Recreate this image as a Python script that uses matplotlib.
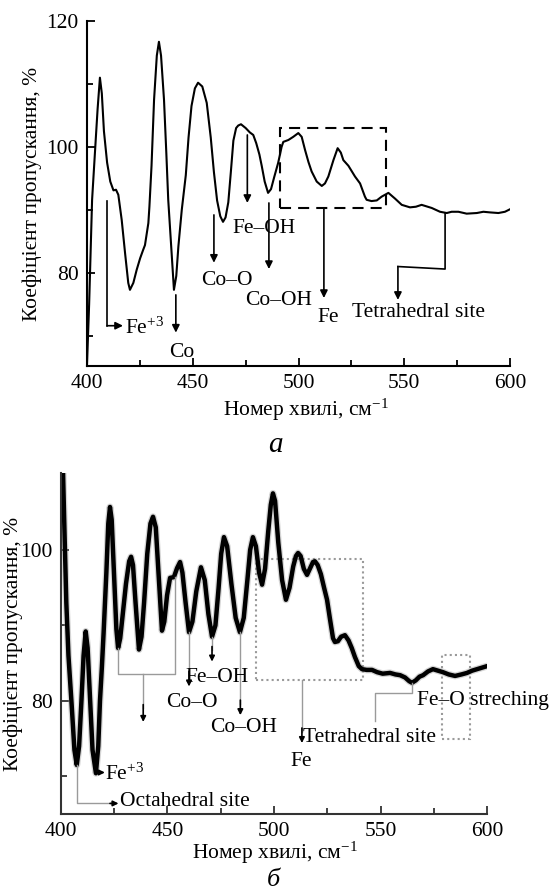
import matplotlib
matplotlib.use('Agg')
import matplotlib.pyplot as plt
from matplotlib.patches import Rectangle
from matplotlib.ticker import MultipleLocator, FixedLocator

plt.rcParams['font.family'] = ['Liberation Serif', 'DejaVu Serif']
plt.rcParams['mathtext.fontset'] = 'custom'
plt.rcParams['mathtext.rm'] = 'Liberation Serif'
plt.rcParams['mathtext.it'] = 'Liberation Serif:italic'

FS = 15.5

# спектр (а)
wn_a = [400, 401, 402.4, 404, 405, 406.1, 407, 408, 409.5, 411, 412.5, 413.7, 414.8,
        416.4, 418, 419.5, 420.3, 421.9, 423.5, 425.1, 426.6, 427.4, 429, 429.5, 430.5,
        431.7, 433, 434, 435, 436.4, 437.5, 438.4, 439.8, 441.1, 442.2, 443.2, 444.8,
        446.7, 448, 449.4, 451, 452.5, 454.5, 456.6, 458.5, 460, 461.5, 463, 464.3,
        465.5, 466.8, 468, 469.2, 470.5, 471.5, 472.8, 475, 477, 478.6, 480, 481.5,
        482.6, 484, 485.6, 487, 488.5, 490.4, 492, 492.8, 495.2, 497.5, 499.9, 501.5,
        503.1, 504.7, 506.2, 508.6, 511, 512.5, 514.1, 515.3, 516.5, 518.5, 520, 521.2,
        523.6, 526.7, 529.1, 531.4, 532.2, 534.5, 537, 539.3, 542.5, 545.6, 548.8,
        552.7, 555.5, 558.2, 563, 566.9, 570.1, 572.4, 575.6, 579.5, 584.3, 587.4,
        590.5, 594.5, 597.6, 600]
tr_a = [65.5, 75, 91.6, 100.5, 106, 111.0, 108.5, 102.5, 97.5, 94.5, 93.1, 93.2, 92.4,
        88.4, 83.1, 78.4, 77.3, 78.4, 80.5, 82.3, 83.7, 84.4, 87.9, 90.5, 97,
        107.5, 114.5, 116.7, 114.5, 107.5, 99, 91.6, 84.2, 77.3, 79.5, 84.2, 90,
        95.5, 101.5, 106.5, 109.3, 110.2, 109.6, 107, 101.5, 96, 91.5, 89, 88.1,
        88.8, 91.2, 96, 101, 103, 103.4, 103.6, 103, 102.3, 101.9, 100.6, 98.8,
        97, 94.5, 92.7, 93.3, 95.2, 97.5, 100, 100.8, 101.1, 101.6, 102.2, 101.6,
        99.5, 97.6, 96.1, 94.5, 93.8, 94.2, 95.3, 96.6, 97.9, 99.8, 99.1, 97.9,
        97, 95.3, 94.2, 92.1, 91.6, 91.4, 91.5, 92.1, 92.7, 91.8, 90.8,
        90.4, 90.5, 90.8, 90.3, 89.7, 89.5, 89.7, 89.7, 89.4, 89.5, 89.7,
        89.6, 89.5, 89.7, 90.1]

# спектр (б)
wn_b = [400.3, 400.9, 401.5, 402.5, 403.5, 405, 406.3, 407.4, 408.5, 409.6, 410.6, 411.6,
        412.5, 413.5, 414.8, 416.4, 417.5, 418.3, 419.2, 420, 421.3, 422.2, 423, 423.8,
        425, 426, 426.8, 427.8, 429, 430.5, 432, 432.9, 433.8, 435, 436.6, 437.8, 439,
        440.5, 442, 443.2, 444.5, 446, 447.4, 448.5, 449.8, 451.2, 453, 454.5, 455.9,
        457, 458.5, 460.1, 461.7, 463.5, 465.7, 467.5, 469.2, 470.9, 472.5, 474, 475.2,
        476.5, 478, 480, 482, 484, 485.8, 487.5, 488.8, 490.1, 491.5, 493, 494.4, 495.8,
        497.3, 498.5, 499.5, 500.5, 502, 503.8, 505.6, 507.3, 509, 510.3, 511.3, 512.5,
        514, 515.5, 517, 518.3, 519.2, 520.5, 522, 523.5, 524.9, 526.3, 527.7, 528.6,
        530, 531.5, 533.3, 535, 536.5, 538, 539.8, 541.3, 543.5, 546, 548.4, 551,
        554.5, 557, 559.2, 561.5, 563.5, 564.8, 566.5, 568.3, 570, 572.3, 574.6, 577,
        579.3, 582, 585, 588, 590.6, 593, 595.3, 597.6, 600]
tr_b = [118, 111, 104, 93, 86, 79.5, 73.5, 71.5, 74, 80, 86, 89.2,
        87, 81, 73.5, 70.4, 74, 80, 84.5, 89, 97, 103.5, 105.7, 104,
        96, 89.5, 87, 88.3, 91.5, 95.5, 98.5, 99.1, 98, 93, 86.8, 88.5, 93,
        99.5, 103.5, 104.4, 103, 96, 89.3, 90.5, 94, 96.3, 96.4, 97.6, 98.4,
        97, 93, 89.1, 90.5, 94.5, 97.7, 96, 91.5, 88.5, 90, 95, 99.5,
        101.7, 100.5, 95.5, 91, 89.1, 91, 96, 100, 101.7, 100.5, 97, 95.4, 97.5,
        102.5, 106, 107.5, 106.5, 101, 96, 93.4, 95, 97.8, 99.2, 99.6, 99.2,
        97.5, 96.7, 97.6, 98.4, 98.5, 98, 96.8, 95, 93.4, 90.8, 88.3, 87.8,
        87.9, 88.5, 88.7, 88, 87, 85.8, 84.6, 84.2, 84.1, 84.1, 83.8, 83.6,
        83.7, 83.5, 83.4, 83.1, 82.6, 82.4, 82.7, 83.2, 83.4, 83.9, 84.2, 84,
        83.8, 83.5, 83.3, 83.5, 83.7, 84, 84.2, 84.4, 84.6]

ylabel = 'Коефіцієнт пропускання, %'
xlabel = 'Номер хвилі, см$^{-1}$'

fig = plt.figure(figsize=(5.49, 8.94), dpi=100)
ax1 = fig.add_axes([0.1585, 0.5906, 0.7705, 0.3859])
ax2 = fig.add_axes([0.1111, 0.0895, 0.776, 0.3814])


def style_axes(ax, color):
    for s in ['top', 'right']:
        ax.spines[s].set_visible(False)
    for s in ['left', 'bottom']:
        ax.spines[s].set_linewidth(1.5)
        ax.spines[s].set_color(color)
    ax.xaxis.set_major_locator(MultipleLocator(50))
    ax.xaxis.set_minor_locator(MultipleLocator(25))
    ax.yaxis.set_major_locator(MultipleLocator(20))
    ax.tick_params(which='both', direction='in', width=1.3, color=color,
                   labelsize=FS, pad=6)
    ax.tick_params(which='major', length=6)
    ax.tick_params(which='minor', length=4)


def arrow(ax, x0, y0, x1, y1, color='k', lw=1.2, ms=11):
    ax.annotate('', xy=(x1, y1), xytext=(x0, y0),
                arrowprops=dict(arrowstyle='-|>', color=color, lw=lw,
                                mutation_scale=ms, shrinkA=0, shrinkB=0))


# ---- (а) ----
ax1.plot(wn_a, tr_a, color='k', lw=1.5)
ax1.set_xlim(400, 600)
ax1.set_ylim(65.2, 120)
style_axes(ax1, 'k')
ax1.yaxis.set_minor_locator(MultipleLocator(10))
ax1.set_ylabel(ylabel, fontsize=FS)
ax1.yaxis.set_label_coords(-0.106, 0.5)
ax1.set_xlabel(xlabel, fontsize=FS)
ax1.xaxis.set_label_coords(0.518, -0.09)

ax1.add_patch(Rectangle((491.3, 90.3), 50.1, 12.7, fill=False, ec='k', lw=1.5,
                        ls=(0, (5.3, 3.4))))

ax1.plot([409.5, 409.5], [91.4, 71.6], color='k', lw=1.2)
arrow(ax1, 409.5, 71.6, 417, 71.6)
ax1.text(417.8, 70.3, 'Fe$^{+3}$', fontsize=FS, va='baseline')
arrow(ax1, 442, 76.5, 442, 70.5)
ax1.text(444.8, 66.7, 'Co', fontsize=FS, ha='center', va='baseline')
arrow(ax1, 460, 89.2, 460, 81.6)
ax1.text(466, 78.1, 'Co–O', fontsize=FS, ha='center', va='baseline')
arrow(ax1, 475.8, 101.9, 475.8, 91.1)
ax1.text(483.5, 86.35, 'Fe–OH', fontsize=FS, ha='center', va='baseline')
arrow(ax1, 486, 91.1, 486, 80.6)
ax1.text(490.7, 74.9, 'Co–OH', fontsize=FS, ha='center', va='baseline')
arrow(ax1, 512, 90.3, 512, 76)
ax1.text(514, 72.2, 'Fe', fontsize=FS, ha='center', va='baseline')
ax1.plot([569.3, 569.3, 547], [89.5, 80.6, 81], color='k', lw=1.2)
arrow(ax1, 547, 81, 547, 75.7)
ax1.text(556.5, 73.0, 'Tetrahedral site', fontsize=FS, ha='center', va='baseline')

# ---- (б) ----
ax2.plot(wn_b, tr_b, color='#888', lw=5, alpha=0.35, solid_capstyle='round')
ax2.plot(wn_b, tr_b, color='k', lw=3.2, solid_capstyle='round')
ax2.set_xlim(400, 600)
ax2.set_ylim(65, 110.2)
style_axes(ax2, '#333')
ax2.yaxis.set_minor_locator(FixedLocator([70, 90]))
ax2.set_ylabel(ylabel, fontsize=FS)
ax2.yaxis.set_label_coords(-0.09, 0.5)
ax2.set_xlabel(xlabel, fontsize=FS)
ax2.xaxis.set_label_coords(0.502, -0.076)

gray = '#9a9a9a'
dots = (0, (1, 1.5))
ax2.add_patch(Rectangle((491.5, 82.8), 50.3, 16.0, fill=False, ec=gray, lw=1.5, ls=dots))
ax2.add_patch(Rectangle((578.9, 75.0), 13.1, 11.1, fill=False, ec=gray, lw=1.5, ls=dots))

ax2.plot([407.4, 407.4, 425], [71.5, 66.4, 66.4], color=gray, lw=1.0)
arrow(ax2, 423, 66.4, 427, 66.4, ms=8)
ax2.text(427.7, 66.0, 'Octahedral site', fontsize=FS, va='baseline')
arrow(ax2, 416.6, 70.5, 420.6, 70.5, ms=8)
ax2.text(420.7, 69.5, 'Fe$^{+3}$', fontsize=FS, va='baseline')

ax2.plot([426.8, 426.8, 453.5, 453.5], [87, 83.6, 83.6, 96.4], color=gray, lw=1.0)
ax2.plot([438.6, 438.6], [83.6, 79], color=gray, lw=1.0)
arrow(ax2, 438.6, 79.5, 438.6, 77.2, ms=8)

for x0, y0, y1 in [(460.1, 89.1, 81.9), (470.9, 88.5, 85.2), (484.2, 89.1, 78.1),
                   (513.1, 82.8, 74.4)]:
    ax2.plot([x0, x0], [y0, y1 + 1.5], color=gray, lw=1.0)
    arrow(ax2, x0, y1 + 2, x0, y1, ms=8)
ax2.text(461.5, 79.2, 'Co–O', fontsize=FS, ha='center', va='baseline')
ax2.text(473.2, 82.5, 'Fe–OH', fontsize=FS, ha='center', va='baseline')
ax2.text(485.7, 75.9, 'Co–OH', fontsize=FS, ha='center', va='baseline')
ax2.text(512.9, 71.4, 'Fe', fontsize=FS, ha='center', va='baseline')

ax2.plot([564.8, 564.8, 547.4, 547.4], [82.4, 81.1, 81.1, 77.3], color=gray, lw=1.0)
ax2.text(513.6, 74.6, 'Tetrahedral site', fontsize=FS, va='baseline')
ax2.text(567.0, 79.5, 'Fe–O streching', fontsize=FS, va='baseline')

fig.text(275 / 549, 1 - 445 / 894, 'а', fontsize=21, style='italic',
         ha='center', va='center')
fig.text(273 / 549, 1 - 880 / 894, 'б', fontsize=19, style='italic',
         ha='center', va='center')

fig.savefig('out.png', dpi=100)
